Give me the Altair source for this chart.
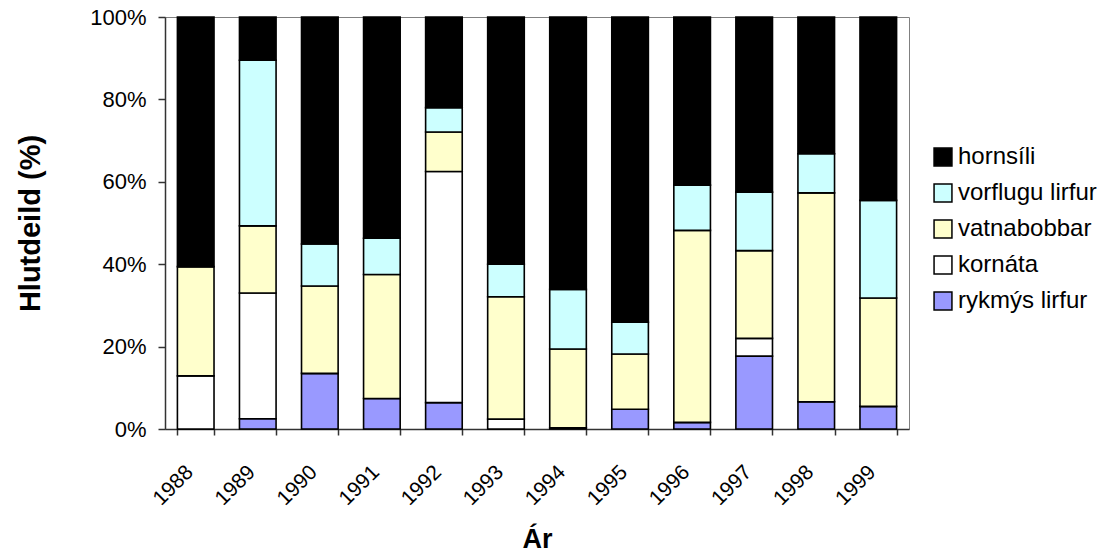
import altair as alt
import pandas as pd

years = ["1988", "1989", "1990", "1991", "1992", "1993", "1994", "1995",
         "1996", "1997", "1998", "1999"]
categories = ["rykmýs lirfur", "kornáta", "vatnabobbar", "vorflugu lirfur", "hornsíli"]
colors = ["#9999FF", "#FFFFFF", "#FFFFCC", "#CCFFFF", "#000000"]

rykmys = [0.0, 2.5, 13.5, 7.4, 6.4, 0.0, 0.3, 4.8, 1.6, 17.7, 6.6, 5.5]
kornata = [12.9, 30.5, 0.0, 0.0, 56.1, 2.4, 0.0, 0.0, 0.0, 4.3, 0.0, 0.0]
vatnabobbar = [26.5, 16.3, 21.2, 30.1, 9.6, 29.7, 19.1, 13.4, 46.6, 21.3, 50.7, 26.3]
vorflugu = [0.0, 40.2, 10.2, 8.8, 5.9, 7.9, 14.5, 7.7, 11.0, 14.2, 9.5, 23.7]
hornsili = [60.6, 10.5, 55.1, 53.7, 22.0, 60.0, 66.1, 74.1, 40.8, 42.5, 33.2, 44.5]

series = [rykmys, kornata, vatnabobbar, vorflugu, hornsili]
rows = []
for k, (cat, vals) in enumerate(zip(categories, series)):
    for y, v in zip(years, vals):
        rows.append({"Ár": y, "flokkur": cat, "gildi": v, "ord": k})
df = pd.DataFrame(rows)

legend_order = list(reversed(categories))
legend_colors = list(reversed(colors))

FONT = "Liberation Sans"

chart = alt.Chart(df).mark_bar(stroke="#000000", strokeWidth=1.6).encode(
    x=alt.X("Ár:N", sort=years,
            scale=alt.Scale(paddingInner=0.41, paddingOuter=0.2),
            axis=alt.Axis(title="Ár", labelAngle=-45, labelAlign="right",
                          labelBaseline="top", labelFontSize=21, labelFont=FONT,
                          labelColor="#000000", labelPadding=26, labelOffset=-14,
                          titleFont=FONT, titleFontSize=27, titleFontWeight="bold",
                          titleColor="#000000", titlePadding=18,
                          tickBand="extent", tickSize=6, tickColor="#333333",
                          domainColor="#333333", grid=False)),
    y=alt.Y("gildi:Q", stack="normalize",
            scale=alt.Scale(domain=[0, 1]),
            axis=alt.Axis(title="Hlutdeild (%)", format=".0%",
                          values=[0, 0.2, 0.4, 0.6, 0.8, 1.0],
                          labelFontSize=22, labelFont=FONT, labelColor="#000000",
                          labelPadding=12,
                          titleFont=FONT, titleFontSize=29, titleFontWeight="bold",
                          titleColor="#000000", titlePadding=44,
                          tickSize=7, tickColor="#333333", domainColor="#333333",
                          grid=False)),
    color=alt.Color("flokkur:N",
                    scale=alt.Scale(domain=legend_order, range=legend_colors),
                    legend=alt.Legend(title=None, orient="none",
                                      legendX=766, legendY=128,
                                      symbolType="square", symbolSize=320,
                                      symbolStrokeColor="#000000",
                                      symbolStrokeWidth=1.5,
                                      symbolOpacity=1,
                                      labelFont=FONT, labelFontSize=24,
                                      labelColor="#000000", labelOffset=3,
                                      rowPadding=12)),
    order=alt.Order("ord:Q", sort="ascending"),
).properties(
    width=744, height=412,
    autosize=alt.AutoSizeParams(type="none"),
    padding={"left": 165, "top": 17, "right": 202, "bottom": 131},
).configure_view(
    stroke="#808080", strokeWidth=1
).configure_axis(
    domainWidth=1.5, tickWidth=1.5
)

chart.save("out.html", embed_options={"renderer": "svg", "actions": False})
